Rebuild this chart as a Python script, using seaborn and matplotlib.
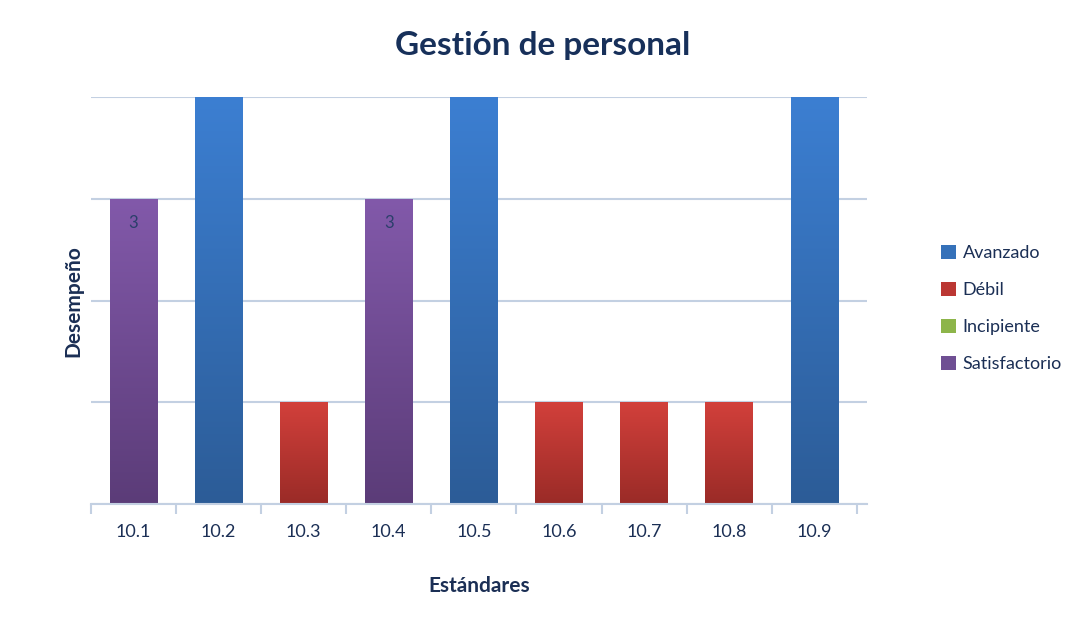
import matplotlib
matplotlib.use("Agg")
import matplotlib.pyplot as plt
import matplotlib.colors as mcolors
import seaborn as sns
import pandas as pd
import numpy as np
from matplotlib.patches import Patch

# datos del gráfico
estandares = ["10.1", "10.2", "10.3", "10.4", "10.5", "10.6", "10.7", "10.8", "10.9"]
desempeno = [3, 4, 1, 3, 4, 1, 1, 1, 4]
nivel = ["Satisfactorio", "Avanzado", "Débil", "Satisfactorio", "Avanzado",
         "Débil", "Débil", "Débil", "Avanzado"]
niveles = ["Avanzado", "Débil", "Incipiente", "Satisfactorio"]
colores = {"Avanzado": "#3571b9", "Débil": "#bb3733",
           "Incipiente": "#8db54a", "Satisfactorio": "#6f4f93"}
# degradado (arriba, abajo) como en Excel
degradado = {"Avanzado": ("#3c7fd2", "#2c5c97"), "Débil": ("#d2403b", "#9a2b27"),
             "Incipiente": ("#9bc45a", "#76983b"), "Satisfactorio": ("#8259aa", "#5b3c78")}

df = pd.DataFrame({"Estándar": estandares, "Desempeño": desempeno, "Nivel": nivel})

sns.set_style("white")
plt.rcParams["font.family"] = ["Lato", "DejaVu Sans"]
navy = "#1b2f55"
linea = "#c3d0e2"

fig = plt.figure(figsize=(10.68, 6.43), dpi=100)
ax = fig.add_axes([0.085, 0.216, 0.727, 0.633])

sns.barplot(data=df, x="Estándar", y="Desempeño", hue="Nivel", hue_order=niveles,
            palette=colores, dodge=False, width=0.56, legend=False, ax=ax,
            edgecolor="none", saturation=1)

ax.set_ylim(0, 4)
ax.set_xlim(-0.5, 8.62)

# degradado vertical dentro de cada barra
for cont in ax.containers:
    for p in cont:
        fc = p.get_facecolor()
        nombre = min(colores, key=lambda n: sum(abs(a - b) for a, b in
                                                 zip(mcolors.to_rgba(colores[n]), fc)))
        cmap = mcolors.LinearSegmentedColormap.from_list("g", [degradado[nombre][1],
                                                              degradado[nombre][0]])
        x0, y0 = p.get_x(), p.get_y()
        w, h = p.get_width(), p.get_height()
        img = ax.imshow(np.linspace(0, 1, 256).reshape(-1, 1), cmap=cmap, origin="lower",
                        extent=[x0, x0 + w, y0, y0 + h], aspect="auto", zorder=p.get_zorder())
        img.set_clip_path(p)

# etiquetas solo en las barras "Satisfactorio"
morado = mcolors.to_rgba(colores["Satisfactorio"])
for cont in ax.containers:
    if len(cont) and all(abs(a - b) < 0.01 for a, b in zip(cont[0].get_facecolor(), morado)):
        ax.bar_label(cont, padding=-23, color="#2b3f6b", fontsize=12, zorder=5)

ax.set_ylim(0, 4)
ax.set_xlim(-0.5, 8.62)
ax.set_yticks([0, 1, 2, 3, 4])
ax.set_yticklabels([])
ax.tick_params(axis="y", length=0)
ax.yaxis.grid(True, color=linea, linewidth=1.5)
ax.set_axisbelow(True)

ax.set_xticks(range(len(estandares)))
ax.set_xticklabels(estandares, color=navy, fontsize=13)
ax.tick_params(axis="x", which="major", length=0, pad=14)
ax.set_xticks([i - 0.5 for i in range(len(estandares) + 1)], minor=True)
ax.tick_params(axis="x", which="minor", bottom=True, length=7, color=linea, width=1.5)

for s in ["top", "right", "left"]:
    ax.spines[s].set_visible(False)
ax.spines["bottom"].set_color(linea)
ax.spines["bottom"].set_linewidth(1.5)

ax.set_xlabel("Estándares", fontsize=15, fontweight="bold", color=navy, labelpad=26)
ax.set_ylabel("Desempeño", fontsize=15, fontweight="bold", color=navy, labelpad=2)

fig.text(0.508, 0.929, "Gestión de personal", ha="center", va="center",
         fontsize=24, fontweight="bold", color="#17305a")

handles = [Patch(facecolor=colores[n], edgecolor="none") for n in niveles]
fig.legend(handles, niveles, loc="center left", bbox_to_anchor=(0.866, 0.52),
           frameon=False, fontsize=13, labelcolor=navy, handlelength=0.8,
           handleheight=0.8, handletextpad=0.4, labelspacing=1.15)

fig.savefig("out.png", dpi=100)
